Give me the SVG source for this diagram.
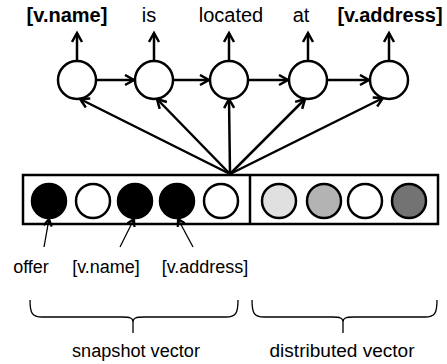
<svg xmlns="http://www.w3.org/2000/svg" width="447" height="364" viewBox="0 0 447 364">
  <style>
    .node { fill: #fff; stroke: #000; stroke-width: 2.5; }
    .cell { stroke: #000; stroke-width: 2.5; }
    .edge { stroke: #000; stroke-width: 2.5; fill: none; }
    .thin { stroke: #000; stroke-width: 1.3; fill: none; }
    .brace { stroke: #000; stroke-width: 1.3; fill: none; }
    .lbl { font-family: "Liberation Sans", Arial, sans-serif; fill: #000; text-anchor: middle; }
    .top { font-size: 20px; }
    .b { font-weight: bold; }
    .mid { font-size: 18px; }
  </style>
  <defs>
    <marker id="ah" markerUnits="userSpaceOnUse" markerWidth="14" markerHeight="14" refX="10" refY="6" orient="auto">
      <path d="M1,1 L10,6 L1,11" fill="none" stroke="#000" stroke-width="2.5"/>
    </marker>
    <marker id="ahs" markerUnits="userSpaceOnUse" markerWidth="12" markerHeight="12" refX="8" refY="5" orient="auto">
      <path d="M1,1 L8,5 L1,9" fill="none" stroke="#000" stroke-width="2.2"/>
    </marker>
  </defs>

  <g id="labels-top">
    <text class="lbl top b" x="67" y="22">[v.name]</text>
    <text class="lbl top" x="149" y="22">is</text>
    <text class="lbl top" x="231" y="22">located</text>
    <text class="lbl top" x="301" y="22">at</text>
    <text class="lbl top b" x="390" y="22">[v.address]</text>
  </g>

  <g id="vector">
    <rect x="23" y="175" width="415" height="49" fill="#fff" stroke="#000" stroke-width="2.5"/>
    <line x1="250" y1="175" x2="250" y2="224" stroke="#000" stroke-width="2.5"/>
    <circle class="cell" cx="49" cy="201" r="17" fill="#000"/>
    <circle class="cell" cx="93" cy="201" r="17" fill="#fff"/>
    <circle class="cell" cx="135" cy="201" r="17" fill="#000"/>
    <circle class="cell" cx="177" cy="201" r="17" fill="#000"/>
    <circle class="cell" cx="221" cy="201" r="17" fill="#fff"/>
    <circle class="cell" cx="279" cy="201" r="17" fill="#e0e0e0"/>
    <circle class="cell" cx="324" cy="201" r="17" fill="#b3b3b3"/>
    <circle class="cell" cx="365" cy="201" r="17" fill="#fff"/>
    <circle class="cell" cx="409" cy="201" r="17" fill="#737373"/>
  </g>

  <g id="connectors">
    <line class="edge" x1="77" y1="61" x2="77" y2="33" marker-end="url(#ah)"/>
    <line class="edge" x1="154" y1="61" x2="154" y2="33" marker-end="url(#ah)"/>
    <line class="edge" x1="229" y1="61" x2="229" y2="33" marker-end="url(#ah)"/>
    <line class="edge" x1="308" y1="61" x2="308" y2="33" marker-end="url(#ah)"/>
    <line class="edge" x1="389" y1="61" x2="389" y2="33" marker-end="url(#ah)"/>

    <line class="edge" x1="96" y1="80" x2="134" y2="80" marker-end="url(#ah)"/>
    <line class="edge" x1="173" y1="80" x2="209" y2="80" marker-end="url(#ah)"/>
    <line class="edge" x1="248" y1="80" x2="288" y2="80" marker-end="url(#ah)"/>
    <line class="edge" x1="327" y1="80" x2="369" y2="80" marker-end="url(#ah)"/>

    <line class="edge" x1="230" y1="174" x2="80" y2="99" marker-end="url(#ah)"/>
    <line class="edge" x1="230" y1="174" x2="157" y2="99" marker-end="url(#ah)"/>
    <line class="edge" x1="230" y1="174" x2="229" y2="99" marker-end="url(#ah)"/>
    <line class="edge" x1="230" y1="174" x2="305" y2="99" marker-end="url(#ah)"/>
    <line class="edge" x1="230" y1="174" x2="383" y2="98" marker-end="url(#ah)"/>

    <line class="thin" x1="44" y1="247" x2="49" y2="219" marker-end="url(#ahs)"/>
    <line class="thin" x1="120" y1="247" x2="134" y2="219" marker-end="url(#ahs)"/>
    <line class="thin" x1="193" y1="247" x2="178" y2="219" marker-end="url(#ahs)"/>
  </g>

  <g id="node-1"><circle class="node" cx="77" cy="80" r="19"/></g>
  <g id="node-2"><circle class="node" cx="154" cy="80" r="19"/></g>
  <g id="node-3"><circle class="node" cx="229" cy="80" r="19"/></g>
  <g id="node-4"><circle class="node" cx="308" cy="80" r="19"/></g>
  <g id="node-5"><circle class="node" cx="389" cy="80" r="19"/></g>

  <g id="labels-mid">
    <text class="lbl mid" x="31" y="273">offer</text>
    <text class="lbl mid" x="106" y="273">[v.name]</text>
    <text class="lbl mid" x="205" y="273">[v.address]</text>
  </g>

  <g id="braces">
    <path class="brace" d="M30,300 C30,313 32,317 42,317 L122,317 C130,317 133,318 133,322 C133,318 136,317 144,317 L226,317 C236,317 238,313 238,300 M133,322 L133,333"/>
    <path class="brace" d="M252,300 C252,313 254,317 264,317 L332,317 C340,317 343,318 343,322 C343,318 346,317 354,317 L425,317 C435,317 437,313 437,300 M343,322 L343,333"/>
  </g>

  <g id="labels-bottom">
    <text class="lbl mid" x="136" y="357" textLength="128" lengthAdjust="spacingAndGlyphs">snapshot vector</text>
    <text class="lbl mid" x="342" y="357" textLength="145" lengthAdjust="spacingAndGlyphs">distributed vector</text>
  </g>
</svg>
